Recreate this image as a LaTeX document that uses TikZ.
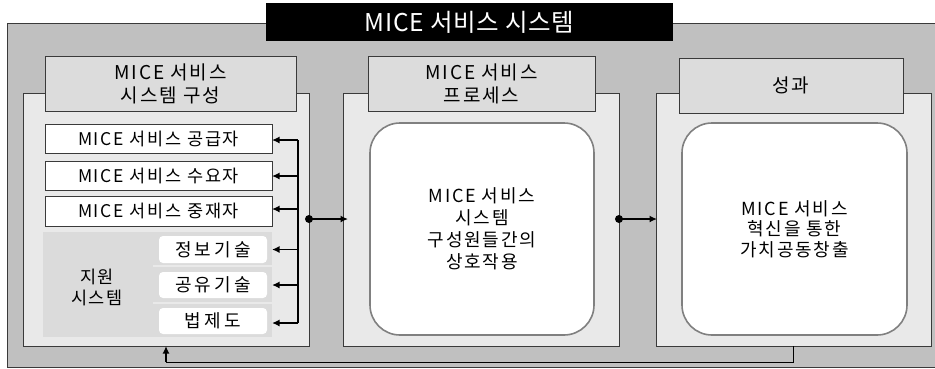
\documentclass[tikz,border=0pt]{standalone}
\usepackage{fontspec}
\setmainfont{Noto Sans CJK KR}[LetterSpace=10]
\newfontfamily\titlefont{Noto Sans CJK KR}[LetterSpace=3]
\newfontfamily\subfont{Noto Sans CJK KR}[LetterSpace=18]
\usetikzlibrary{arrows.meta}
\definecolor{outergray}{HTML}{C0C0C0}
\definecolor{panelgray}{HTML}{E9E9E9}
\definecolor{hdrgray}{HTML}{DCDCDC}
\definecolor{suppgray}{HTML}{DBDBDB}
\definecolor{rimgray}{HTML}{808080}
\definecolor{edgegray}{HTML}{3A3A3A}
\tikzset{
  every node/.style={inner sep=0pt, outer sep=0pt},
  outerbox/.style={draw=edgegray, fill=outergray, line width=0.9pt},
  titlebox/.style={fill=black, text=white, font=\titlefont\fontsize{24.5}{28}\selectfont},
  panel/.style={draw=edgegray, fill=panelgray, line width=0.9pt, minimum width=#1, minimum height=253pt},
  hdr/.style={draw=edgegray, fill=hdrgray, line width=0.9pt, align=center, minimum height=55pt, minimum width=#1, font=\fontsize{19}{23}\selectfont},
  itembox/.style={draw=edgegray, fill=white, line width=0.8pt, minimum width=227pt, minimum height=#1, font=\fontsize{17.5}{20}\selectfont},
  subbox/.style={fill=white, rounded corners=4pt, minimum width=108pt, minimum height=#1, font=\subfont\fontsize{18}{20}\selectfont},
  rbox/.style={draw=rimgray, fill=white, line width=1.6pt, rounded corners=30pt, align=center, minimum height=212pt, minimum width=#1},
  conn/.style={line width=1.5pt, -{Latex[length=7.5pt,width=7pt]}},
  dotc/.style={fill=black}
}
\begin{document}
\begin{tikzpicture}[x=1pt,y=-1pt]
\useasboundingbox (0,0) rectangle (935,368);
% outer system box
\node[outerbox, minimum width=935pt, minimum height=344pt] (outer) at (474.5,195) {};
\node[titlebox, minimum width=407pt, minimum height=38pt] (title) at (469.5,22) {MICE 서비스 시스템};

% left column
\node[panel=286pt] (left) at (166,219.5) {};
\node[hdr=251pt] (lefthdr) at (170.5,84) {MICE 서비스\\시스템 구성};
\node[itembox=29pt] (sup) at (158.5,138.5) {MICE 서비스 공급자};
\node[itembox=29pt] (dem) at (158.5,175.5) {MICE 서비스 수요자};
\node[itembox=30pt] (med) at (158.5,211) {MICE 서비스 중재자};
\node[fill=suppgray, minimum width=229pt, minimum height=105pt] (supp) at (157.5,284.5) {};
\draw[panelgray, line width=1.2pt] (153,266) -- (272,266) (153,303) -- (272,303);
\node[align=center, font=\fontsize{17.5}{21}\selectfont] (supptxt) at (97,287) {지원\\시스템};
\node[subbox=27pt] (it) at (213,249.5) {정보기술};
\node[subbox=26pt] (share) at (213,285) {공유기술};
\node[subbox=26pt] (law) at (213,321) {법제도};

% bus of arrows
\coordinate (busTop) at (298,140);
\coordinate (busBot) at (298,323);
\draw[line width=1.5pt] (busTop) -- (busBot);
\draw[conn] (busTop) -- (sup.east |- busTop);
\draw[conn] (busTop |- 0,176) -- (dem.east |- 0,176);
\draw[conn] (busTop |- 0,209) -- (med.east |- 0,209);
\draw[conn] (busTop |- it.east) -- (supp.east |- it.east);
\draw[conn] (busTop |- share.east) -- (supp.east |- share.east);
\draw[conn] (busBot) -- (supp.east |- busBot);

% middle column
\node[panel=276pt] (mid) at (481,219.5) {};
\node[hdr=227pt] (midhdr) at (481.5,84) {MICE 서비스\\프로세스};
\node[rbox=224pt, font=\fontsize{18}{22}\selectfont] (proc) at (482,229) {MICE 서비스\\시스템\\구성원들간의\\상호작용};

% right column
\node[panel=275pt] (right) at (793.5,219.5) {};
\node[hdr=224pt] (righthdr) at (791,85.5) {성과};
\node[rbox=225pt, font=\fontsize{18}{20.5}\selectfont] (value) at (794.5,229) {MICE 서비스\\혁신을 통한\\가치공동창출};

% flow arrows
\coordinate (d1) at (left.east |- 0,219);
\coordinate (d2) at (mid.east |- 0,219);
\fill[dotc] (d1) circle (4pt);
\fill[dotc] (d2) circle (4pt);
\draw[conn] (d1) -- ([xshift=5pt]mid.west |- d1);
\draw[conn] (d2) -- ([xshift=1pt]right.west |- d2);

% feedback
\coordinate (fb) at (right.south |- 0,362);
\draw[line width=0.9pt] (right.south) -- (fb) -- (left.south |- fb);
\draw[conn] (left.south |- fb) -- (left.south);
\end{tikzpicture}
\end{document}
